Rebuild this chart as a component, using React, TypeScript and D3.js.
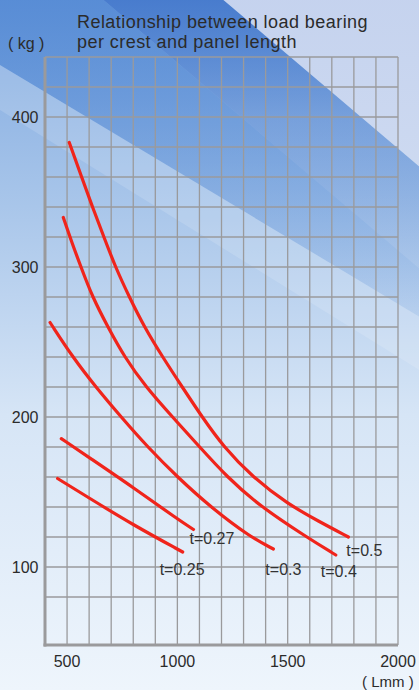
import React from "react";
import * as d3 from "d3";

type Pt = [number, number];

// panel length (mm) / load per crest (kg)
const t05: Pt[] = [[510, 383], [566, 360], [615, 340], [667, 320], [719, 300], [782, 280], [850, 260], [933, 240], [1022, 220], [1112, 200], [1210, 180], [1340, 160], [1500, 142], [1640, 130.5], [1775, 120]];
const t04: Pt[] = [[483, 333], [520, 317], [563, 300], [615, 280], [685, 260], [760, 240], [857, 220], [978, 200], [1095, 181], [1225, 160], [1370, 141], [1585, 120], [1718, 108]];
const t03: Pt[] = [[423, 263], [525, 240], [630, 220], [745, 200], [865, 180], [1000, 160], [1150, 140], [1330, 120], [1435, 112]];
const t027: Pt[] = [[474, 185.6], [600, 173], [800, 153], [1000, 132], [1073, 125]];
const t025: Pt[] = [[457, 159], [600, 146], [800, 128], [1024, 110]];

const seriesNames = ["t=0.5", "t=0.4", "t=0.3", "t=0.27", "t=0.25"];
const seriesData = [t05, t04, t03, t027, t025];

const xTicks = [500, 1000, 1500, 2000];
const yTicks = [100, 200, 300, 400];
const xGrid = d3.range(500, 2001, 100);
const yGrid = d3.range(80, 441, 20);

const titleLines = ["Relationship between load bearing", "per crest and panel length"];

const W = 419, H = 690;

export default function App() {
  const x = d3.scaleLinear().domain([400, 2000]).range([45, 398]);
  const y = d3.scaleLinear().domain([48, 440]).range([645, 57]);
  const line = d3.line<Pt>().x(d => x(d[0])).y(d => y(d[1])).curve(d3.curveBasis);

  // label offsets relative to each curve's end point
  const labelOff: Record<string, [number, number]> = {
    "t=0.5": [-2, 19],
    "t=0.4": [-15, 22],
    "t=0.3": [-8, 26],
    "t=0.27": [-4, 14],
    "t=0.25": [-23, 23],
  };

  const font = "'Liberation Sans', Arial, Helvetica, sans-serif";
  const band = (c1: number, c2: number, s1 = 0.85, s2 = 0.85) =>
    `M0,${c1} L${W},${c1 + s1 * W} L${W},${c2 + s2 * W} L0,${c2} Z`;

  return (
    <svg width={W} height={H} style={{ position: "absolute", left: 0, top: 0 }} fontFamily={font}>
      <defs>
        <linearGradient id="bg" x1="0" y1="0" x2="0" y2="1">
          <stop offset="0" stopColor="#7ea8e0" />
          <stop offset="0.3" stopColor="#a9c6ea" />
          <stop offset="0.6" stopColor="#d6e5f6" />
          <stop offset="1" stopColor="#eef5fc" />
        </linearGradient>
        <linearGradient id="darkFade" gradientUnits="userSpaceOnUse" x1="0" y1="0" x2="0" y2="290">
          <stop offset="0" stopColor="#3b71c9" stopOpacity="0.8" />
          <stop offset="0.4" stopColor="#3b71c9" stopOpacity="0.35" />
          <stop offset="1" stopColor="#3b71c9" stopOpacity="0.05" />
        </linearGradient>
        <linearGradient id="midFade" gradientUnits="userSpaceOnUse" x1="0" y1="0" x2="0" y2="330">
          <stop offset="0" stopColor="#4f86d3" stopOpacity="0.8" />
          <stop offset="1" stopColor="#4f86d3" stopOpacity="0.05" />
        </linearGradient>
        <linearGradient id="lightFade" gradientUnits="userSpaceOnUse" x1="0" y1="0" x2="0" y2="420">
          <stop offset="0" stopColor="#c9d5ef" stopOpacity="1" />
          <stop offset="1" stopColor="#d8e3f4" stopOpacity="1" />
        </linearGradient>
      </defs>
      <rect x={0} y={0} width={W} height={H} fill="url(#bg)" />
      {/* medium blue region left of the band */}
      <path d={band(-88, 65, 0.85, 0.6)} fill="url(#midFade)" />
      {/* dark diagonal band */}
      <path d={band(-88, -190)} fill="url(#darkFade)" />
      {/* light top-right area */}
      <path d={`M${190 / 0.85},0 L${W},0 L${W},${0.85 * W - 190} Z`} fill="url(#lightFade)" opacity={0.95} />
      {/* soft light streak */}
      <path d={band(65, 110, 0.6, 0.62)} fill="#ffffff" opacity={0.14} />

      {/* grid */}
      <g stroke="#9a9a9c" strokeWidth={1.3}>
        {xGrid.map(v => (
          <line key={"vx" + v} x1={x(v)} x2={x(v)} y1={y(440)} y2={y(48)} />
        ))}
        {yGrid.map(v => (
          <line key={"hy" + v} x1={x(400)} x2={x(2000)} y1={y(v)} y2={y(v)} />
        ))}
      </g>
      {/* axes */}
      <g stroke="#9a9a9c" strokeWidth={3}>
        <line x1={x(400)} x2={x(400)} y1={y(440)} y2={y(48) + 1.5} />
        <line x1={x(400) - 1.5} x2={x(2000)} y1={y(48)} y2={y(48)} />
      </g>

      {/* curves */}
      {seriesData.map((d, i) => (
        <path key={seriesNames[i]} d={line(d) || ""} fill="none" stroke="#f0241b" strokeWidth={3.2} strokeLinecap="round" />
      ))}
      {seriesData.map((d, i) => {
        const end = d[d.length - 1];
        const off = labelOff[seriesNames[i]];
        return (
          <text key={"l" + i} x={x(end[0]) + off[0]} y={y(end[1]) + off[1]} fontSize={16} fill="#333">
            {seriesNames[i]}
          </text>
        );
      })}

      {/* ticks */}
      {xTicks.map(v => (
        <text key={"xt" + v} x={x(v)} y={667} fontSize={16} fill="#2b2b2b" textAnchor="middle">{v}</text>
      ))}
      {yTicks.map(v => (
        <text key={"yt" + v} x={38.5} y={y(v) + 6} fontSize={16} fill="#2b2b2b" textAnchor="end">{v}</text>
      ))}

      {/* unit labels & title */}
      <text x={8} y={49} fontSize={16} fill="#2b2b2b">( kg )</text>
      <text x={362} y={687} fontSize={15} fill="#2b2b2b">( Lmm )</text>
      {titleLines.map((t, i) => (
        <text key={t} x={77} y={27.5 + i * 20.5} fontSize={18} letterSpacing={0.45} fill="#2b2b2b">{t}</text>
      ))}
    </svg>
  );
}
